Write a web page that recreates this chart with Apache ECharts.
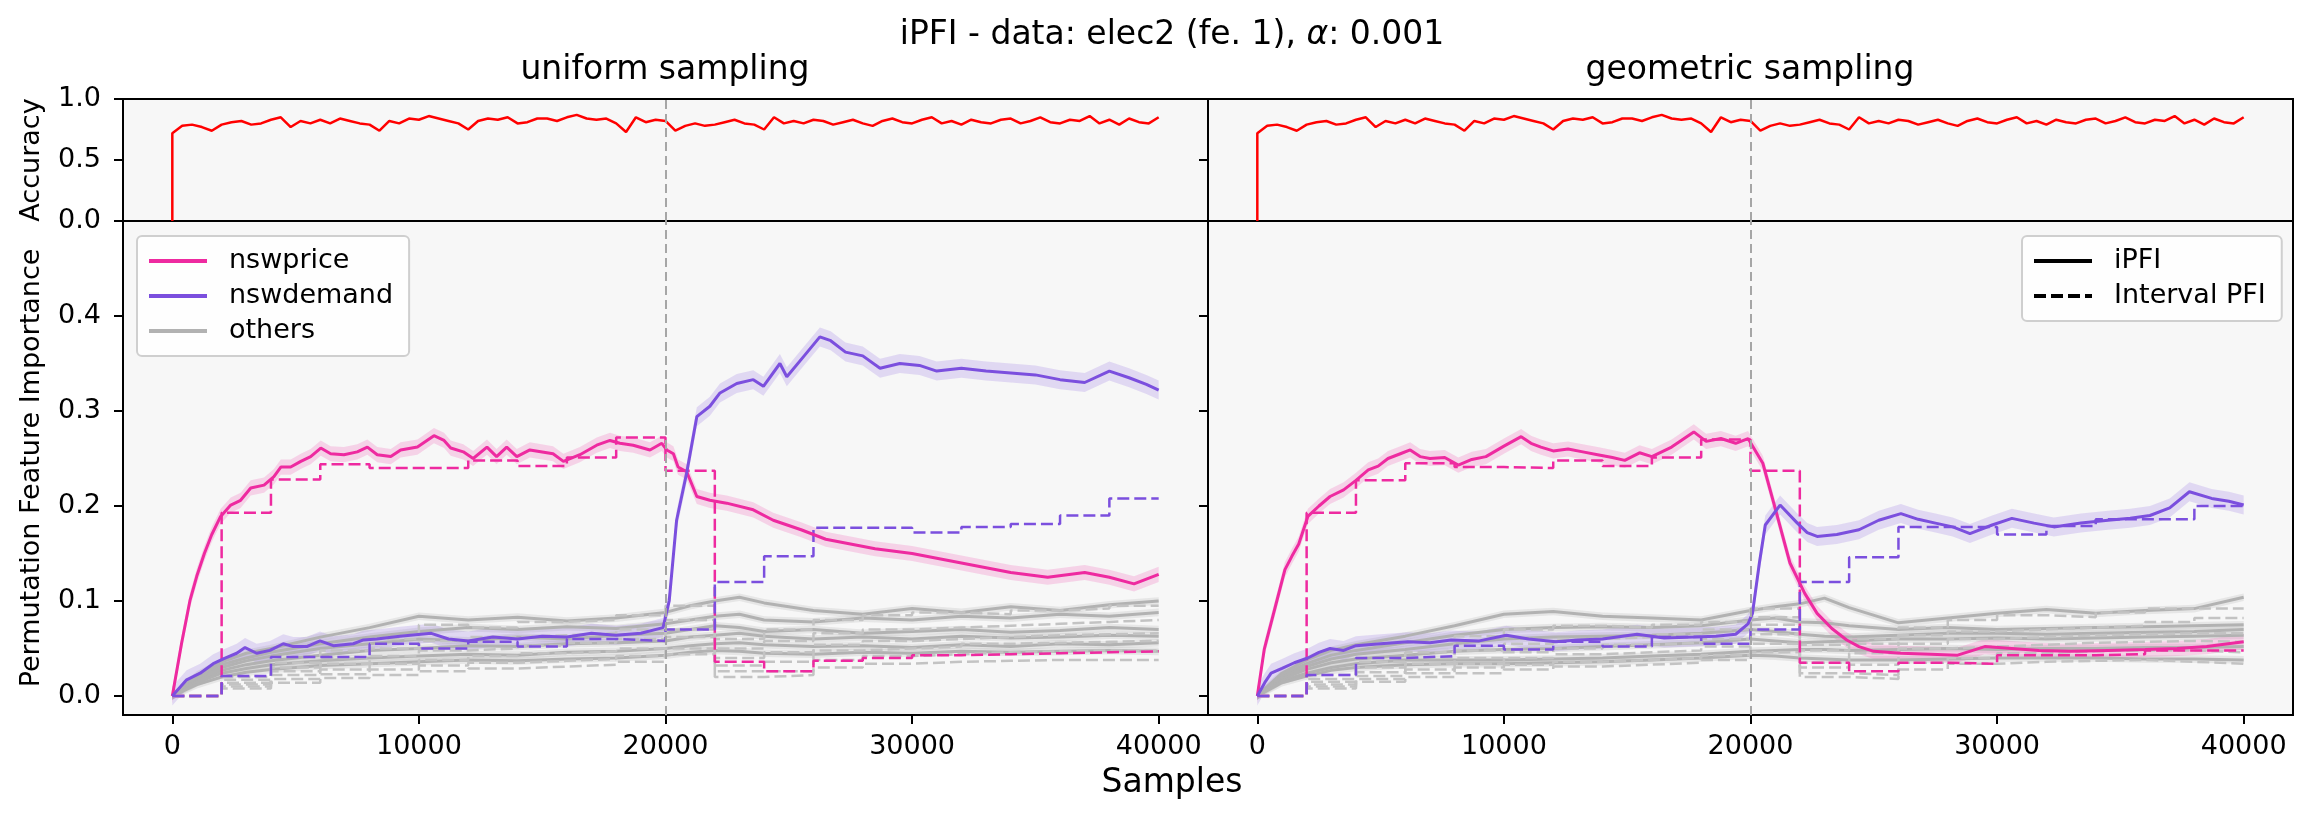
<!DOCTYPE html>
<html>
<head>
<meta charset="utf-8">
<title>iPFI - elec2</title>
<script src="https://cdn.jsdelivr.net/npm/echarts@6.0.0/dist/echarts.min.js"></script>
<style>
html, body { margin: 0; padding: 0; background: #fff; }
#chart { width: 2312px; height: 815px; }
</style>
</head>
<body>
<div id="chart"></div>
<script>
// ---------- data ----------
var driftPosition = 20000;      // concept drift
var intervalWidth = 2000;       // width of one interval PFI step
var accStep = 400;              // spacing of accuracy readings
var xTicks = [0, 10000, 20000, 30000, 40000];
var pfiTicks = [0, 0.1, 0.2, 0.3, 0.4];

// accuracy (same model in both panels), first value is the start at 0
var accuracy = [0,
  0.72, 0.78, 0.79, 0.77, 0.74, 0.79, 0.81, 0.82, 0.79, 0.80,
  0.83, 0.85, 0.77, 0.82, 0.80, 0.83, 0.80, 0.84, 0.82, 0.80,
  0.79, 0.74, 0.82, 0.80, 0.84, 0.83, 0.86, 0.84, 0.82, 0.80,
  0.75, 0.82, 0.84, 0.83, 0.85, 0.80, 0.81, 0.84, 0.84, 0.82,
  0.85, 0.87, 0.84, 0.83, 0.84, 0.80, 0.73, 0.85, 0.81, 0.83,
  0.82, 0.74, 0.78, 0.80, 0.78, 0.79, 0.81, 0.83, 0.80, 0.79,
  0.75, 0.85, 0.80, 0.82, 0.80, 0.83, 0.82, 0.79, 0.81, 0.83,
  0.80, 0.78, 0.82, 0.84, 0.81, 0.80, 0.83, 0.85, 0.80, 0.82,
  0.79, 0.83, 0.81, 0.80, 0.83, 0.84, 0.80, 0.82, 0.85, 0.81,
  0.80, 0.83, 0.82, 0.86, 0.80, 0.83, 0.79, 0.84, 0.81, 0.80,
  0.85];

// iPFI, uniform sampling  [sample, value]
var priceUniform = [[0,0],[380,0.056],[720,0.101],[990,0.126],[1300,0.15],[1600,0.17],[1960,0.189],
  [2370,0.201],[2770,0.206],[3180,0.219],[3720,0.222],[4120,0.231],[4400,0.241],[4800,0.241],
  [5210,0.247],[5610,0.252],[6020,0.261],[6420,0.255],[6960,0.254],[7500,0.257],[7910,0.262],
  [8310,0.254],[8860,0.252],[9260,0.259],[9940,0.262],[10610,0.274],[11020,0.269],[11290,0.261],
  [11800,0.257],[12200,0.25],[12760,0.262],[13150,0.252],[13560,0.262],[13970,0.252],[14500,0.259],
  [15440,0.255],[15860,0.247],[16530,0.254],[17210,0.264],[17750,0.269],[18150,0.266],[18690,0.264],
  [19370,0.259],[19850,0.266],[20050,0.259],[20320,0.255],[20510,0.241],[20860,0.236],[21270,0.21],
  [21800,0.206],[22480,0.203],[23560,0.196],[24370,0.185],[25500,0.175],[26500,0.165],[27500,0.16],
  [28500,0.155],[30000,0.15],[31000,0.145],[32000,0.14],[33000,0.135],[34000,0.13],[35500,0.125],
  [37000,0.13],[38000,0.125],[39000,0.118],[40000,0.128]];
var demandUniform = [[0,0],[580,0.017],[1130,0.024],[1660,0.034],[2070,0.039],[2610,0.045],[2950,0.051],
  [3420,0.045],[3960,0.048],[4500,0.055],[4910,0.052],[5450,0.052],[5990,0.058],[6530,0.053],
  [7340,0.055],[7750,0.059],[8290,0.06],[9230,0.063],[10500,0.066],[11200,0.06],[12000,0.058],
  [13000,0.062],[14000,0.06],[15000,0.063],[16000,0.062],[17000,0.066],[18000,0.064],[19000,0.066],
  [19900,0.072],[20150,0.1],[20450,0.185],[20860,0.235],[21270,0.294],[21800,0.305],[22210,0.319],
  [22890,0.329],[23560,0.333],[23970,0.326],[24640,0.35],[24920,0.336],[25590,0.357],[26260,0.378],
  [26700,0.374],[27300,0.362],[28000,0.358],[28700,0.345],[29500,0.35],[30300,0.348],[31000,0.342],
  [32000,0.345],[33000,0.342],[34000,0.34],[35000,0.338],[36000,0.333],[37000,0.33],[38000,0.342],
  [38800,0.335],[39500,0.328],[40000,0.322]];

// iPFI, geometric sampling
var priceGeometric = [[0,0],[280,0.049],[560,0.077],[840,0.105],[1120,0.133],[1400,0.147],[1680,0.16],
  [2050,0.189],[2500,0.2],[2950,0.21],[3500,0.217],[4000,0.227],[4500,0.238],[4900,0.242],[5300,0.25],
  [5800,0.255],[6200,0.259],[6600,0.252],[7000,0.25],[7600,0.251],[8150,0.243],[8700,0.249],
  [9270,0.252],[10000,0.263],[10700,0.273],[11100,0.266],[11500,0.262],[12000,0.258],[12600,0.26],
  [13200,0.257],[13800,0.254],[14400,0.251],[14900,0.248],[15500,0.256],[16000,0.252],[16800,0.262],
  [17700,0.278],[18200,0.268],[18800,0.271],[19400,0.266],[19900,0.271],[20500,0.245],[21060,0.192],
  [21600,0.14],[22200,0.108],[22700,0.087],[23300,0.071],[23900,0.059],[24400,0.052],[25000,0.047],
  [26100,0.045],[27300,0.044],[28400,0.043],[29500,0.052],[30600,0.05],[31700,0.048],[33000,0.047],
  [34500,0.048],[36000,0.049],[37300,0.05],[38500,0.052],[40000,0.057]];
var demandGeometric = [[0,0],[300,0.014],[560,0.024],[1000,0.029],[1500,0.035],[2050,0.04],[2500,0.046],
  [2950,0.05],[3500,0.048],[4000,0.053],[5000,0.055],[6100,0.057],[7000,0.056],[7860,0.059],
  [9000,0.058],[10100,0.064],[11000,0.06],[12100,0.057],[13000,0.059],[14000,0.06],[15400,0.065],
  [16500,0.061],[17700,0.062],[18600,0.063],[19400,0.065],[19900,0.076],[20080,0.087],[20360,0.14],
  [20600,0.18],[21200,0.201],[21900,0.182],[22300,0.172],[22700,0.168],[23500,0.17],[24400,0.175],
  [25200,0.185],[26100,0.192],[26800,0.186],[27500,0.182],[28200,0.178],[28900,0.171],[29800,0.18],
  [30600,0.187],[31500,0.182],[32300,0.178],[33400,0.182],[34500,0.185],[35400,0.187],[36200,0.19],
  [37000,0.198],[37800,0.215],[38700,0.208],[39400,0.205],[40000,0.201]];

// interval PFI, one value per 2000-sample interval
var priceIntervalUniform = [0, 0.193, 0.228, 0.244, 0.24, 0.24, 0.248, 0.242, 0.251, 0.272,
  0.237, 0.036, 0.026, 0.037, 0.04, 0.043, 0.044, 0.045, 0.046, 0.047];
var demandIntervalUniform = [0, 0.021, 0.041, 0.041, 0.055, 0.05, 0.057, 0.052, 0.06, 0.058,
  0.07, 0.12, 0.147, 0.177, 0.177, 0.172, 0.178, 0.181, 0.19, 0.208];
var priceIntervalGeometric = [0, 0.193, 0.227, 0.245, 0.241, 0.24, 0.248, 0.242, 0.251, 0.27,
  0.237, 0.035, 0.026, 0.035, 0.034, 0.043, 0.043, 0.044, 0.048, 0.048];
var demandIntervalGeometric = [0, 0.022, 0.04, 0.042, 0.053, 0.049, 0.057, 0.052, 0.062, 0.055,
  0.07, 0.12, 0.146, 0.178, 0.178, 0.17, 0.179, 0.186, 0.186, 0.2];

// other features (6), iPFI on a shared sample grid
var othersX = [0, 1000, 2000, 3000, 4000, 6000, 8000, 10000, 12000, 14000, 16000, 18000, 20000,
  21000, 22000, 23000, 24000, 26000, 28000, 30000, 32000, 34000, 36000, 38000, 40000];
var othersUniform = [
  [0, 0.022, 0.036, 0.045, 0.05, 0.062, 0.072, 0.084, 0.08, 0.083, 0.079, 0.082, 0.088, 0.095, 0.1, 0.104, 0.098, 0.09, 0.086, 0.092, 0.088, 0.094, 0.09, 0.096, 0.1],
  [0, 0.02, 0.033, 0.04, 0.046, 0.055, 0.062, 0.068, 0.072, 0.07, 0.073, 0.071, 0.076, 0.08, 0.084, 0.086, 0.08, 0.078, 0.082, 0.08, 0.084, 0.082, 0.086, 0.084, 0.088],
  [0, 0.018, 0.03, 0.037, 0.042, 0.05, 0.055, 0.06, 0.058, 0.062, 0.06, 0.064, 0.066, 0.07, 0.074, 0.072, 0.068, 0.07, 0.066, 0.068, 0.07, 0.067, 0.069, 0.072, 0.07],
  [0, 0.016, 0.027, 0.033, 0.037, 0.043, 0.048, 0.05, 0.053, 0.052, 0.055, 0.056, 0.058, 0.062, 0.064, 0.066, 0.063, 0.06, 0.062, 0.06, 0.063, 0.061, 0.062, 0.064, 0.063],
  [0, 0.014, 0.024, 0.029, 0.033, 0.037, 0.04, 0.042, 0.044, 0.043, 0.046, 0.047, 0.05, 0.053, 0.055, 0.056, 0.054, 0.052, 0.053, 0.051, 0.054, 0.052, 0.055, 0.054, 0.056],
  [0, 0.012, 0.02, 0.025, 0.028, 0.032, 0.034, 0.036, 0.038, 0.037, 0.039, 0.04, 0.043, 0.046, 0.048, 0.047, 0.045, 0.044, 0.046, 0.045, 0.047, 0.046, 0.047, 0.048, 0.047]
];
var othersGeometric = [
  [0, 0.024, 0.038, 0.048, 0.054, 0.063, 0.074, 0.086, 0.089, 0.084, 0.082, 0.08, 0.09, 0.094, 0.097, 0.103, 0.093, 0.077, 0.082, 0.087, 0.091, 0.087, 0.09, 0.092, 0.104],
  [0, 0.022, 0.034, 0.043, 0.048, 0.056, 0.064, 0.07, 0.072, 0.073, 0.072, 0.074, 0.08, 0.082, 0.078, 0.077, 0.074, 0.07, 0.072, 0.07, 0.071, 0.072, 0.073, 0.074, 0.075],
  [0, 0.02, 0.031, 0.039, 0.044, 0.049, 0.055, 0.06, 0.062, 0.063, 0.064, 0.066, 0.07, 0.068, 0.065, 0.063, 0.062, 0.064, 0.066, 0.066, 0.065, 0.066, 0.067, 0.068, 0.07],
  [0, 0.018, 0.028, 0.035, 0.039, 0.043, 0.047, 0.049, 0.05, 0.052, 0.054, 0.056, 0.06, 0.058, 0.056, 0.057, 0.058, 0.06, 0.06, 0.061, 0.06, 0.061, 0.062, 0.063, 0.064],
  [0, 0.016, 0.024, 0.03, 0.034, 0.038, 0.038, 0.038, 0.039, 0.04, 0.042, 0.044, 0.047, 0.048, 0.049, 0.049, 0.048, 0.049, 0.05, 0.049, 0.05, 0.05, 0.051, 0.051, 0.052],
  [0, 0.014, 0.021, 0.027, 0.03, 0.033, 0.034, 0.034, 0.035, 0.036, 0.038, 0.04, 0.043, 0.042, 0.04, 0.039, 0.038, 0.038, 0.039, 0.04, 0.04, 0.04, 0.039, 0.039, 0.038]
];
var othersIntervalUniform = [
  [0, 0.02, 0.035, 0.048, 0.06, 0.075, 0.072, 0.078, 0.08, 0.085, 0.095, 0.06, 0.07, 0.08, 0.085, 0.088, 0.086, 0.09, 0.092, 0.095],
  [0, 0.017, 0.03, 0.04, 0.05, 0.058, 0.062, 0.064, 0.066, 0.07, 0.08, 0.05, 0.058, 0.066, 0.07, 0.072, 0.074, 0.076, 0.078, 0.08],
  [0, 0.014, 0.026, 0.034, 0.042, 0.048, 0.05, 0.053, 0.056, 0.06, 0.07, 0.04, 0.046, 0.054, 0.058, 0.06, 0.062, 0.064, 0.065, 0.066],
  [0, 0.012, 0.022, 0.028, 0.034, 0.038, 0.042, 0.045, 0.047, 0.05, 0.062, 0.032, 0.036, 0.048, 0.05, 0.052, 0.055, 0.056, 0.057, 0.058],
  [0, 0.01, 0.018, 0.023, 0.028, 0.032, 0.035, 0.037, 0.039, 0.042, 0.05, 0.026, 0.026, 0.038, 0.042, 0.044, 0.046, 0.047, 0.048, 0.048],
  [0, 0.008, 0.014, 0.019, 0.022, 0.026, 0.029, 0.031, 0.033, 0.036, 0.044, 0.02, 0.022, 0.03, 0.034, 0.036, 0.037, 0.038, 0.038, 0.038]
];
var othersIntervalGeometric = [
  [0, 0.022, 0.036, 0.046, 0.063, 0.07, 0.074, 0.072, 0.075, 0.078, 0.092, 0.054, 0.06, 0.072, 0.08, 0.085, 0.083, 0.088, 0.092, 0.092],
  [0, 0.018, 0.03, 0.04, 0.048, 0.055, 0.06, 0.062, 0.065, 0.07, 0.083, 0.048, 0.055, 0.064, 0.068, 0.07, 0.072, 0.074, 0.078, 0.082],
  [0, 0.015, 0.025, 0.034, 0.04, 0.046, 0.05, 0.054, 0.056, 0.06, 0.075, 0.035, 0.045, 0.055, 0.06, 0.062, 0.064, 0.065, 0.066, 0.066],
  [0, 0.012, 0.021, 0.028, 0.034, 0.04, 0.044, 0.046, 0.048, 0.052, 0.065, 0.03, 0.033, 0.05, 0.052, 0.054, 0.056, 0.057, 0.058, 0.057],
  [0, 0.01, 0.018, 0.024, 0.03, 0.033, 0.036, 0.038, 0.04, 0.043, 0.055, 0.024, 0.022, 0.035, 0.04, 0.045, 0.047, 0.048, 0.048, 0.046],
  [0, 0.008, 0.015, 0.02, 0.024, 0.028, 0.031, 0.033, 0.035, 0.038, 0.046, 0.02, 0.018, 0.028, 0.034, 0.036, 0.037, 0.038, 0.036, 0.034]
];

// half width of the shaded spread around each iPFI curve
var bandHalfWidth = { nswprice: 0.008, nswdemand: 0.01, others: 0.004 };

// ---------- styles ----------
var FONT = 'DejaVu Sans';
var PINK = '#ee2aa0', PURPLE = '#7b4fde', GREY = '#b2b2b2', GREY_DASH = '#c3c3c3', RED = '#ff0000';
var DASH = [12, 5];

// ---------- helpers ----------
function pairsOf(xs, ys) {
    return xs.map(function (x, i) { return [x, ys[i]]; });
}
function stepsOf(values) {
    var pts = values.map(function (v, k) { return [k * intervalWidth, v]; });
    pts.push([values.length * intervalWidth, values[values.length - 1]]);
    return pts;
}
function lineSeries(name, data, gi, color, width, dash, z) {
    return {
        type: 'line', name: name, data: data, xAxisIndex: gi, yAxisIndex: gi,
        symbol: 'none', showSymbol: false, silent: true, z: z, color: color,
        lineStyle: { color: color, width: width, type: dash || 'solid' }
    };
}
function stepSeries(name, values, gi, color, z) {
    var s = lineSeries(name, stepsOf(values), gi, color, 2.5, DASH, z);
    s.step = 'end';
    return s;
}
function bandSeries(data, half, gi, color, opacity, z) {
    return {
        type: 'custom', xAxisIndex: gi, yAxisIndex: gi, silent: true, clip: true, z: z,
        data: data.map(function (p) { return [p[0], p[1] - half, p[1] + half]; }),
        encode: { x: 0, y: [1, 2] },
        renderItem: function (params, api) {
            if (params.dataIndex !== 0) return null;
            var up = [], lo = [];
            data.forEach(function (p) {
                up.push(api.coord([p[0], p[1] + half]));
                lo.unshift(api.coord([p[0], p[1] - half]));
            });
            return { type: 'polygon', shape: { points: up.concat(lo) }, style: { fill: color, opacity: opacity } };
        }
    };
}
function driftSeries(gi) {
    return {
        type: 'line', name: 'drift' + gi, data: [], xAxisIndex: gi, yAxisIndex: gi, z: 8,
        markLine: {
            silent: true, symbol: ['none', 'none'], label: { show: false },
            lineStyle: { color: '#a6a6a6', width: 2, type: [9, 5] },
            data: [{ xAxis: driftPosition }]
        }
    };
}

// ---------- layout ----------
var grids = [
    { left: 123, top: 99, width: 1085, height: 122 },
    { left: 1208, top: 99, width: 1085, height: 122 },
    { left: 123, top: 221, width: 1085, height: 494 },
    { left: 1208, top: 221, width: 1085, height: 494 }
].map(function (g) {
    g.show = true; g.backgroundColor = '#f7f7f7'; g.borderColor = '#000'; g.borderWidth = 2;
    return g;
});

var tickStyle = { color: '#000', width: 2 };
var labelFont = { fontFamily: FONT, fontSize: 27, color: '#000' };

var xAxes = [0, 1, 2, 3].map(function (i) {
    var bottom = i >= 2;
    return {
        type: 'value', gridIndex: i, min: -2000, max: 42000,
        axisLine: { show: false, onZero: false }, splitLine: { show: false },
        axisTick: bottom ? { show: true, customValues: xTicks, length: 9, lineStyle: tickStyle } : { show: false },
        axisLabel: bottom ? Object.assign({ show: true, customValues: xTicks, margin: 18,
            formatter: function (v) { return String(v); } }, labelFont) : { show: false }
    };
});

var yAxes = [0, 1, 2, 3].map(function (i) {
    var acc = i < 2, leftSide = (i % 2 === 0);
    var ax = {
        type: 'value', gridIndex: i,
        axisLine: { show: false, onZero: false }, splitLine: { show: false },
        axisTick: { show: true, length: 9, lineStyle: tickStyle },
        axisLabel: Object.assign({ show: leftSide, margin: 22,
            formatter: function (v) { return v.toFixed(1); } }, labelFont)
    };
    if (acc) {
        ax.min = 0; ax.max = 1; ax.interval = 0.5;
    } else {
        ax.min = -0.02; ax.max = 0.5;
        ax.axisTick.customValues = pfiTicks;
        ax.axisLabel.customValues = pfiTicks;
    }
    return ax;
});

// ---------- series ----------
var accData = accuracy.map(function (v, i) { return [i === 0 ? 0 : (i - 1) * accStep, v]; });
var series = [];

[0, 1].forEach(function (gi) {
    series.push(lineSeries('Accuracy' + gi, accData, gi, RED, 2.5, null, 4));
    series.push(driftSeries(gi));
});

var panels = [
    { gi: 2, price: priceUniform, demand: demandUniform, priceInt: priceIntervalUniform,
      demandInt: demandIntervalUniform, others: othersUniform, othersInt: othersIntervalUniform },
    { gi: 3, price: priceGeometric, demand: demandGeometric, priceInt: priceIntervalGeometric,
      demandInt: demandIntervalGeometric, others: othersGeometric, othersInt: othersIntervalGeometric }
];

panels.forEach(function (p) {
    var gi = p.gi;
    // shaded spreads
    p.others.forEach(function (ys) {
        series.push(bandSeries(pairsOf(othersX, ys), bandHalfWidth.others, gi, GREY, 0.25, 1));
    });
    series.push(bandSeries(p.demand, bandHalfWidth.nswdemand, gi, PURPLE, 0.18, 1));
    series.push(bandSeries(p.price, bandHalfWidth.nswprice, gi, PINK, 0.18, 1));
    // others: iPFI and interval PFI
    p.others.forEach(function (ys) {
        series.push(lineSeries('others', pairsOf(othersX, ys), gi, GREY, 3, null, 2));
    });
    p.othersInt.forEach(function (vals, k) {
        series.push(stepSeries('others interval ' + k, vals, gi, GREY_DASH, 2));
    });
    // interval PFI for the two drifting features
    series.push(stepSeries('nswprice interval', p.priceInt, gi, PINK, 3));
    series.push(stepSeries('nswdemand interval', p.demandInt, gi, PURPLE, 3));
    // iPFI
    series.push(lineSeries('nswprice', p.price, gi, PINK, 3, null, 4));
    series.push(lineSeries('nswdemand', p.demand, gi, PURPLE, 3, null, 4));
    series.push(driftSeries(gi));
});

// legend-only series for the line styles
series.push(lineSeries('iPFI', [], 3, '#000', 3, null, 0));
series.push(lineSeries('Interval PFI', [], 3, '#000', 3, DASH, 0));

// ---------- legends ----------
function legendBox(names, left) {
    return {
        data: names, orient: 'vertical', left: left, top: 236, selectedMode: false,
        itemWidth: 58, itemHeight: 30, itemGap: 5, padding: [10, 16, 10, 10],
        backgroundColor: 'rgba(255,255,255,0.8)', borderColor: '#cfcfcf', borderWidth: 2, borderRadius: 5,
        lineStyle: { width: 4 },
        itemStyle: { opacity: 0 },
        textStyle: { fontFamily: FONT, fontSize: 27, color: '#000', lineHeight: 30, padding: [0, 0, 0, 17] }
    };
}

// ---------- texts ----------
function label(text, x, y, size, rotate) {
    return {
        type: 'text', x: x, y: y, rotation: rotate ? Math.PI / 2 : 0, silent: true,
        style: { text: text, font: size + 'px "' + FONT + '"', fill: '#000', align: 'center', verticalAlign: 'middle' }
    };
}
var suptitle = label('{n|iPFI - data: elec2 (fe. 1), }{it|α}{n|: 0.001}', 1172, 35, 33, false);
suptitle.style.rich = {
    n: { fontFamily: FONT, fontSize: 33, color: '#000' },
    it: { fontFamily: FONT, fontSize: 33, fontStyle: 'italic', color: '#000' }
};

var option = {
    animation: false,
    backgroundColor: '#ffffff',
    grid: grids,
    xAxis: xAxes,
    yAxis: yAxes,
    legend: [
        legendBox(['nswprice', 'nswdemand', 'others'], 137),
        legendBox(['iPFI', 'Interval PFI'], 2022)
    ],
    graphic: [
        suptitle,
        label('uniform sampling', 665, 70, 33, false),
        label('geometric sampling', 1750, 70, 33, false),
        label('Accuracy', 32, 160, 27, true),
        label('Permutation Feature Importance', 32, 468, 27, true),
        label('Samples', 1172, 783, 33, false)
    ],
    series: series
};

var chart = echarts.init(document.getElementById('chart'));
chart.setOption(option);
</script>
</body>
</html>
